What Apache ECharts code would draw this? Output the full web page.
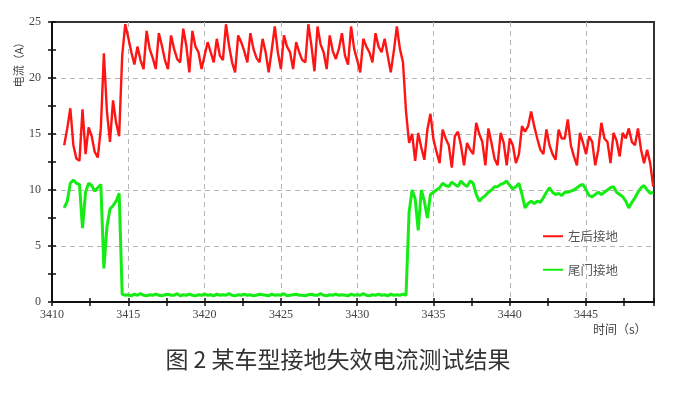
<!DOCTYPE html>
<html><head><meta charset="utf-8">
<script src="https://cdn.jsdelivr.net/npm/echarts@6/dist/echarts.min.js"></script>
<style>html,body{margin:0;padding:0;background:#fff}#c{width:688px;height:393px}</style>
</head><body><div id="c"></div>
<script>
// time grid of the samples (s)
const timeStart = 3410.8;
const timeStep = 0.2;
const seriesNames = ['左后接地', '尾门接地'];
const xMin = 3410, xMax = 3449.45, yMin = 0, yMax = 25;
const captionText = '图 2 某车型接地失效电流测试结果';
const yName = '电流（A）';
const xName = '时间（s）';

// 左后接地 current (A), one value per 0.2 s from 3410.8 s
const redCurrent = [
  14.0,15.5,17.3,14.0,12.8,12.6,17.2,13.2,15.6,14.8,
  13.4,12.9,15.5,22.2,17.0,14.3,18.0,16.0,14.8,22.0,
  24.8,23.6,22.3,21.2,22.8,21.6,20.8,24.2,22.6,21.8,
  20.8,24.0,22.9,21.6,20.8,23.8,22.6,21.7,21.4,24.4,
  22.9,20.5,24.2,22.8,22.3,20.8,22.0,23.2,22.3,21.4,
  23.5,22.0,21.6,24.8,22.9,21.4,20.5,23.8,23.2,22.4,
  21.4,24.0,22.6,21.8,21.4,23.5,22.3,20.5,22.5,24.6,
  22.3,20.8,23.8,22.8,22.3,20.8,23.2,22.3,21.6,21.4,
  24.8,22.9,20.6,24.6,23.0,22.3,20.8,23.8,22.4,21.7,
  22.6,24.0,22.0,21.2,24.6,22.6,21.6,20.5,23.5,22.8,
  22.3,21.4,24.0,22.8,22.3,23.5,22.0,20.5,22.4,24.6,
  22.6,21.4,17.0,14.2,15.0,12.6,15.1,13.8,12.7,15.4,
  16.8,14.5,13.4,12.4,15.4,14.6,14.0,12.0,14.8,15.2,
  14.0,12.2,14.2,13.6,13.2,16.0,15.0,14.3,12.2,15.5,
  14.2,12.8,12.2,15.1,14.2,12.2,14.6,14.0,12.4,13.2,
  15.7,15.2,15.7,17.0,15.7,14.6,13.6,13.2,15.4,14.0,
  13.2,12.7,15.4,14.6,14.6,16.3,14.0,13.0,12.2,15.1,
  14.2,13.2,14.8,14.3,12.2,13.6,16.0,14.6,14.3,12.4,
  15.1,14.4,13.0,15.1,14.6,15.5,14.3,14.0,15.5,13.6,
  12.4,13.6,12.4,10.3
];

// 尾门接地 current (A), same time grid
const greenCurrent = [
  8.4,9.0,10.6,10.9,10.6,10.5,6.6,9.8,10.6,10.4,
  9.9,10.2,10.5,3.0,6.7,8.3,8.6,9.0,9.7,
  0.7,0.6,0.65,0.55,0.7,0.6,0.75,0.6,0.55,0.65,
  0.6,0.7,0.6,0.55,0.65,0.7,0.6,0.6,0.75,0.55,
  0.65,0.6,0.7,0.6,0.55,0.65,0.6,0.7,0.6,0.65,
  0.55,0.7,0.6,0.65,0.6,0.75,0.6,0.55,0.65,0.6,
  0.7,0.6,0.65,0.55,0.6,0.7,0.65,0.6,0.55,0.7,
  0.6,0.65,0.6,0.75,0.55,0.6,0.65,0.7,0.6,0.6,
  0.55,0.65,0.7,0.6,0.6,0.75,0.6,0.55,0.65,0.6,
  0.7,0.6,0.65,0.6,0.55,0.7,0.6,0.65,0.6,0.75,
  0.6,0.55,0.65,0.6,0.7,0.6,0.65,0.55,0.7,0.6,
  0.65,0.6,0.7,0.6,
  8.0,10.0,9.2,6.4,10.0,9.0,7.5,9.6,9.8,10.0,
  10.2,10.6,10.4,10.3,10.7,10.5,10.3,10.8,10.5,10.3,
  10.8,10.6,9.6,9.0,9.3,9.5,9.8,10.0,10.3,10.3,
  10.5,10.6,10.8,10.4,10.1,10.3,10.6,9.6,8.4,8.8,
  9.0,8.8,9.0,8.9,9.3,9.8,10.2,9.8,9.6,9.7,
  9.5,9.8,9.8,9.9,10.0,10.2,10.4,10.5,10.0,9.5,
  9.4,9.6,9.8,9.6,9.8,10.0,10.2,10.3,9.8,9.6,
  9.4,9.0,8.4,8.9,9.3,9.8,10.2,10.4,10.0,9.7,
  9.8
];

function pairs(vals) {
  return vals.map((v, i) => [+(timeStart + i * timeStep).toFixed(2), v]);
}

const labelFont = 'Liberation Serif';
const cjkFont = 'Noto Sans CJK SC';
const tickColor = '#111';

function tickAxis(kind, inside) {
  const base = {
    type: 'value', gridIndex: 0, interval: 2.5,
    axisLine: { show: false },
    axisTick: { show: true, inside: inside, length: 4, lineStyle: { color: tickColor, width: 1.5 } },
    axisLabel: { show: false },
    splitLine: { show: false }
  };
  if (kind === 'x') { base.min = xMin; base.max = xMax; base.position = 'bottom'; }
  else { base.min = yMin; base.max = yMax; base.position = 'left'; }
  return base;
}

const chart = echarts.init(document.getElementById('c'), null, { renderer: 'canvas' });
chart.setOption({
  animation: false,
  backgroundColor: '#fff',
  grid: { left: 52, right: 34, top: 22, bottom: 91, show: true, borderColor: '#333', borderWidth: 2, backgroundColor: 'transparent' },
  legend: {
    orient: 'vertical', left: 543, top: 230, padding: 0, itemGap: 21,
    itemWidth: 20, itemHeight: 2, icon: 'rect',
    textStyle: { fontSize: 12.5, color: '#555', fontFamily: cjkFont },
    data: seriesNames
  },
  xAxis: [
    {
      type: 'value', min: xMin, max: xMax, interval: 5, position: 'bottom',
      axisLine: { show: true, onZero: false, lineStyle: { color: tickColor, width: 2 } },
      axisTick: { show: false },
      axisLabel: { color: '#444', fontFamily: labelFont, fontSize: 12, margin: 7, showMaxLabel: false,
        formatter: v => (Math.abs(v % 5) < 1e-6 ? String(v) : '') },
      splitLine: { show: true, showMinLine: false, showMaxLine: false, lineStyle: { color: '#b5b5b5', type: [5, 4], width: 1 } }
    },
    tickAxis('x', false),
    tickAxis('x', true)
  ],
  yAxis: [
    {
      type: 'value', min: yMin, max: yMax, interval: 5, position: 'left',
      axisLine: { show: true, onZero: false, lineStyle: { color: tickColor, width: 2 } },
      axisTick: { show: false },
      axisLabel: { color: '#444', fontFamily: labelFont, fontSize: 12, margin: 11 },
      splitLine: { show: true, showMinLine: false, showMaxLine: false, lineStyle: { color: '#b5b5b5', type: [5, 4], width: 1 } }
    },
    tickAxis('y', false),
    tickAxis('y', true)
  ],
  series: [
    {
      name: seriesNames[0], type: 'line', xAxisIndex: 0, yAxisIndex: 0,
      data: pairs(redCurrent), showSymbol: false, symbol: 'none',
      lineStyle: { color: '#ff1414', width: 2.4 }, itemStyle: { color: '#ff1414' }
    },
    {
      name: seriesNames[1], type: 'line', xAxisIndex: 0, yAxisIndex: 0,
      data: pairs(greenCurrent), showSymbol: false, symbol: 'none',
      lineStyle: { color: '#14ec14', width: 3 }, itemStyle: { color: '#14ec14' }
    }
  ],
  graphic: [
    { type: 'text', x: 19, y: 62, rotation: Math.PI / 2,
      style: { text: yName, fontSize: 11, fill: '#444', fontFamily: cjkFont, align: 'center', verticalAlign: 'middle' } },
    { type: 'text', x: 593, y: 329,
      style: { text: xName, fontSize: 12, fill: '#444', fontFamily: cjkFont, align: 'left', verticalAlign: 'middle' } },
    { type: 'text', x: 338, y: 359,
      style: { text: captionText, fontSize: 23, fill: '#333', fontFamily: cjkFont, align: 'center', verticalAlign: 'middle' } }
  ]
});
</script>
</body></html>
